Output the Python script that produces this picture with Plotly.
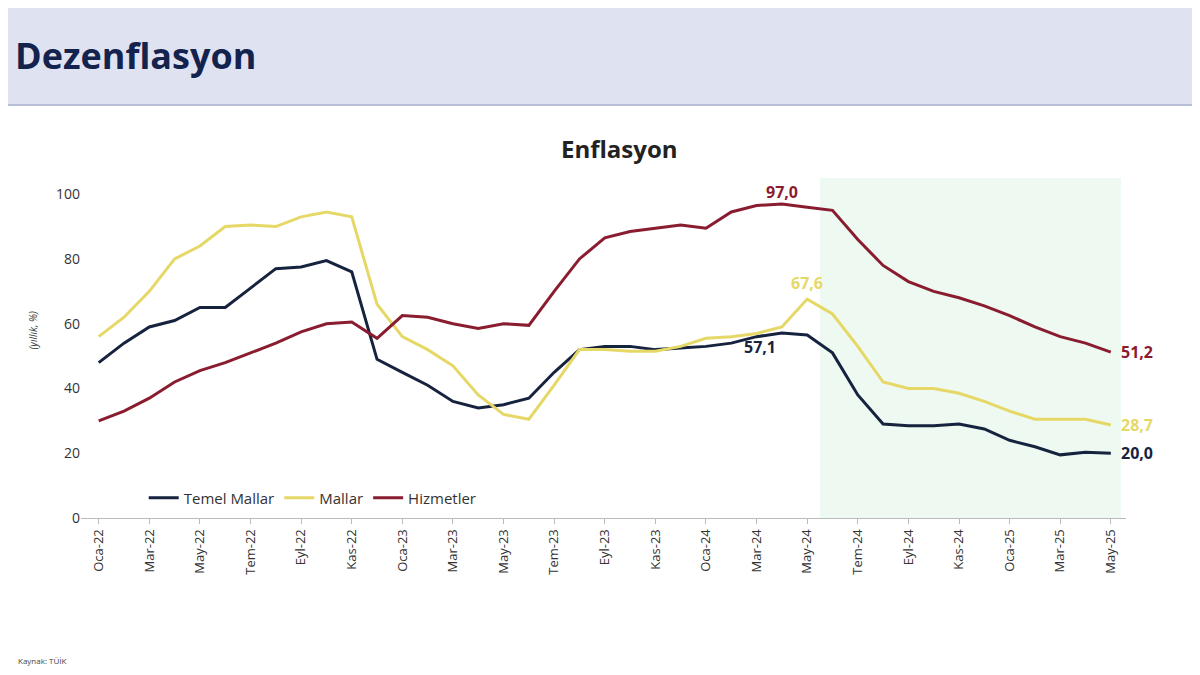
import plotly.graph_objects as go

aylar = ["Oca", "Şub", "Mar", "Nis", "May", "Haz", "Tem", "Ağu", "Eyl", "Eki", "Kas", "Ara"]
months = [f"{m}-{y}" for y in ["22", "23", "24"] for m in aylar] + [f"{m}-25" for m in aylar[:5]]

temel_mallar = [48, 54, 59, 61, 65, 65, 71, 77, 77.5, 79.5, 76, 49,
                45, 41, 36, 34, 35, 37, 45, 52, 53, 53, 52, 52.5,
                53, 54, 56, 57.1, 56.5, 51, 38, 29, 28.5, 28.5, 29, 27.5,
                24, 22, 19.5, 20.3, 20.0]
mallar = [56, 62, 70, 80, 84, 90, 90.5, 90, 93, 94.5, 93, 66,
          56, 52, 47, 38, 32, 30.5, 41, 52, 52, 51.5, 51.5, 53,
          55.5, 56, 57, 59, 67.6, 63, 53, 42, 40, 40, 38.5, 36,
          33, 30.5, 30.5, 30.5, 28.7]
hizmetler = [30, 33, 37, 42, 45.5, 48, 51, 54, 57.5, 60, 60.5, 55.5,
             62.5, 62, 60, 58.5, 60, 59.5, 70, 80, 86.5, 88.5, 89.5, 90.5,
             89.5, 94.5, 96.5, 97, 96, 95, 86, 78, 73, 70, 68, 65.5,
             62.5, 59, 56, 54, 51.2]

navy = "#16233f"
yellow = "#e6d867"
red = "#8a1c30"

fig = go.Figure()
idx = list(range(len(months)))
for name, vals, col in [("Temel Mallar", temel_mallar, navy), ("Mallar", mallar, yellow),
                        ("Hizmetler", hizmetler, red)]:
    fig.add_trace(go.Scatter(x=idx, y=vals, name=name, mode="lines",
                             line=dict(color=col, width=3)))

# shaded disinflation period
fig.add_shape(type="rect", xref="x", yref="paper", x0=28.5, x1=40.4, y0=0, y1=1.0,
              fillcolor="#eefaf1", line_width=0, layer="below")

# header band
fig.add_shape(type="rect", xref="paper", yref="paper", x0=-0.12, x1=1.12, y0=1.215, y1=1.6,
              fillcolor="#dfe3f1", line=dict(color="#b9bfd8", width=2))
fig.add_annotation(text="<b>Dezenflasyon</b>", xref="paper", yref="paper", x=-0.065, y=1.36,
                   xanchor="left", yanchor="middle", showarrow=False,
                   font=dict(size=36, color="#14224e"))
fig.add_annotation(text="<b>Enflasyon</b>", xref="paper", yref="paper", x=0.515, y=1.14,
                   showarrow=False, font=dict(size=24, color="#222"))
fig.add_annotation(text="<i>(yıllık, %)</i>", xref="paper", yref="paper", x=-0.055, y=0.55,
                   textangle=-90, showarrow=False, font=dict(size=10, color="#333"))
fig.add_annotation(text="Kaynak: TÜİK", xref="paper", yref="paper", x=-0.062, y=-0.44,
                   xanchor="left", showarrow=False, font=dict(size=8, color="#444"))

labels = [(40, 20.0, "20,0", navy, 26, 0), (27, 57.1, "57,1", navy, -22, -14),
          (28, 67.6, "67,6", yellow, 0, 16), (40, 28.7, "28,7", yellow, 26, 0),
          (27, 97.0, "97,0", red, 0, 12), (40, 51.2, "51,2", red, 26, 0)]
for x, y, t, c, ax, ay in labels:
    fig.add_annotation(x=x, y=y, text=f"<b>{t}</b>", showarrow=False, xshift=ax, yshift=ay,
                       font=dict(size=16, color=c))

fig.update_xaxes(tickmode="array", tickvals=idx[::2], ticktext=months[::2], tickangle=-90,
                 range=[-0.7, 40.6], showgrid=False, showline=True, linecolor="#bbb",
                 ticks="outside", tickcolor="#bbb", ticklen=5,
                 tickfont=dict(size=13, color="#333"))
fig.update_yaxes(range=[0, 105], tickvals=[0, 20, 40, 60, 80, 100], showgrid=False,
                 zeroline=False, tickfont=dict(size=14, color="#333"))
fig.update_layout(width=1200, height=675, plot_bgcolor="white", paper_bgcolor="white",
                  margin=dict(l=73, r=82, t=170, b=165),
                  font=dict(family="Open Sans, Arial, sans-serif"),
                  legend=dict(orientation="h", x=0.06, y=0.01, yanchor="bottom",
                              bgcolor="rgba(0,0,0,0)", font=dict(size=15, color="#333")))

fig.write_html("out.html")
